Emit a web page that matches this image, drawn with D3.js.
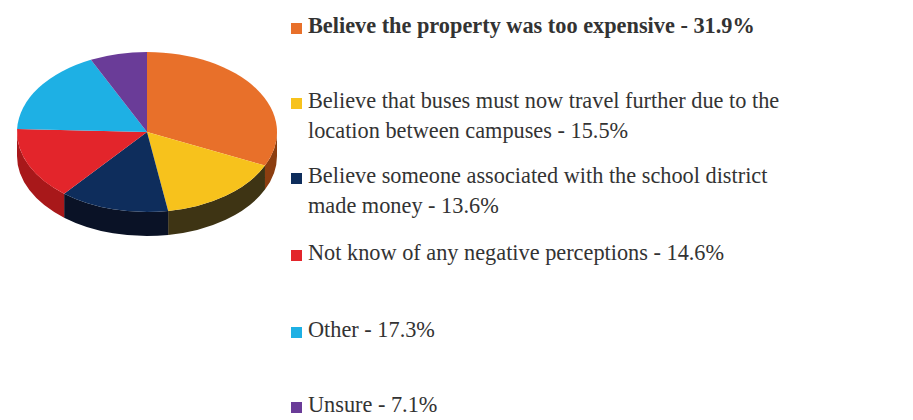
<!DOCTYPE html>
<html>
<head>
<meta charset="utf-8">
<script src="https://cdn.jsdelivr.net/npm/d3@7"></script>
<style>
  body { margin: 0; background: #fff; }
  svg { display: block; }
</style>
</head>
<body>
<svg width="913" height="420"></svg>
<script>
// chart data
const labels = [
  ['Believe the property was too expensive - 31.9%'],
  ['Believe that buses must now travel further due to the', 'location between campuses - 15.5%'],
  ['Believe someone associated with the school district', 'made money - 13.6%'],
  ['Not know of any negative perceptions - 14.6%'],
  ['Other - 17.3%'],
  ['Unsure - 7.1%']
];
const values = [31.9, 15.5, 13.6, 14.6, 17.3, 7.1];
const colors = ['#e8702a', '#f7c21c', '#0e2d5c', '#e3252b', '#1eb0e4', '#6a3c98'];
const sideColors = ['#8c3e10', '#3e3414', '#0a1226', '#a8181a', '#13709a', '#40245e'];

const svg = d3.select('svg');

// pie geometry
const cx = 147, cy = 132;
const rx = 130, ry = 80;
const k = ry / rx;
const depth = 24;

const pie = d3.pie().sort(null).value(d => d);
const slices = pie(values);

const arc = d3.arc().innerRadius(0).outerRadius(rx);

const g = svg.append('g')
  .attr('transform', `translate(${cx}, ${cy}) scale(1, ${k})`);

// side walls (only the front half is visible)
const dk = depth / k;
slices.forEach((s, i) => {
  const a0 = Math.max(s.startAngle, Math.PI / 2);
  const a1 = Math.min(s.endAngle, Math.PI * 3 / 2);
  if (a1 <= a0) return;
  const p = d3.path();
  p.moveTo(rx * Math.sin(a0), -rx * Math.cos(a0));
  p.arc(0, 0, rx, a0 - Math.PI / 2, a1 - Math.PI / 2);
  p.lineTo(rx * Math.sin(a1), -rx * Math.cos(a1) + dk);
  p.arc(0, dk, rx, a1 - Math.PI / 2, a0 - Math.PI / 2, true);
  p.closePath();
  g.append('path')
    .attr('d', p.toString())
    .attr('fill', sideColors[i]);
});

// top face
g.selectAll('path.slice')
  .data(slices)
  .join('path')
    .attr('class', 'slice')
    .attr('d', arc)
    .attr('fill', (d, i) => colors[i]);

// legend
const legendX = 291;
const baselines = [33, 108, 183, 260, 337, 412];
const lineGap = 30;

const legend = svg.append('g');
labels.forEach((lines, i) => {
  const item = legend.append('g');
  item.append('rect')
    .attr('x', legendX)
    .attr('y', baselines[i] - 10)
    .attr('width', 11)
    .attr('height', 11)
    .attr('fill', colors[i]);
  lines.forEach((t, j) => {
    item.append('text')
      .attr('x', legendX + 17)
      .attr('y', baselines[i] + j * lineGap)
      .attr('font-family', 'Liberation Serif, serif')
      .attr('font-size', 22.3)
      .attr('font-weight', i === 0 ? 'bold' : 'normal')
      .attr('fill', '#333')
      .text(t);
  });
});
</script>
</body>
</html>
